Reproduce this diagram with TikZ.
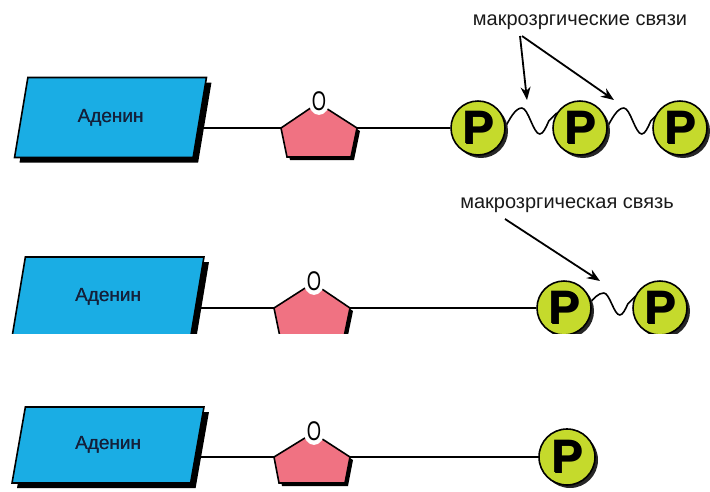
\documentclass[tikz,border=0pt]{standalone}
\usepackage{fontspec}
\setmainfont{Liberation Sans}
\usetikzlibrary{shapes.geometric,shadows,arrows.meta,backgrounds}
\definecolor{adblue}{HTML}{1AADE4}
\definecolor{sugar}{HTML}{F07282}
\definecolor{phos}{HTML}{C5DA2C}
\definecolor{adtext}{HTML}{14203A}
\definecolor{lbl}{HTML}{1A1A1A}
\newcommand\myP{\makebox[0pt][l]{\hspace{1.5pt}\raisebox{-1.5pt}{P}}P}
\newcommand\myO{\scalebox{0.68}[1]{O}}
\newcommand\adtxt{\raisebox{-3pt}{\makebox[0pt][l]{\hspace{0.35pt}Аденин}Аденин}}
\begin{document}
\begin{tikzpicture}[x=1pt,y=-1pt,
  adenine/.style={trapezium, trapezium left angle=76, trapezium right angle=104,
    trapezium stretches=true, draw=black, line width=1.6pt, fill=adblue, text=adtext,
    font=\fontsize{19}{22}\selectfont, minimum width=193pt, minimum height=80pt,
    drop shadow={shadow xshift=5pt, shadow yshift=-5pt, opacity=1, fill=black}},
  sugarpath/.style={draw=black, line width=1.6pt, fill=sugar,
    drop shadow={shadow xshift=3pt, shadow yshift=-3pt, opacity=1, fill=black}},
  phosph/.style={circle, draw=black, line width=1.6pt, fill=phos, minimum size=54pt,
    inner sep=0pt, font=\fontsize{47}{47}\selectfont\bfseries,
    drop shadow={shadow xshift=3pt, shadow yshift=-3pt, opacity=1, fill=black!85}},
  oxy/.style={ellipse, fill=white, inner sep=0.3pt, font=\fontsize{27}{27}\selectfont},
  bond/.style={line width=1.9pt},
  wave/.style={line width=1.6pt},
  lab/.style={font=\fontsize{20}{23}\selectfont, text=lbl},
  arr/.style={line width=1.8pt, -{Stealth[length=13pt,width=10pt]}},
]
\useasboundingbox (0,0) rectangle (710,491);

% ---------------- Row 1: ATP ----------------
\node[adenine] (a1) at (110.5,117.5) {\adtxt};
\draw[sugarpath] (318,103) -- (357,128) -- (351,157) -- (287,157) -- (281,128) -- cycle;
\coordinate (s1l) at (281,128);
\coordinate (s1r) at (357,128);
\node[oxy] (o1) at (319,101) {\myO};
\node[phosph] (p11) at (478,128) {\myP};
\node[phosph] (p12) at (580,128) {\myP};
\node[phosph] (p13) at (680,128) {\myP};
\begin{scope}[on background layer]
  \draw[bond] (s1l) -- (a1.center |- s1l);
  \draw[bond] (s1r) -- (p11);
  \draw[wave] (p11.east) ++(-2,2) sin ++(18,-22) cos ++(9,13) sin ++(9,13) cos ++(9,-13) -- ++(8,-8);
  \draw[wave] (p12.east) ++(-2,2) sin ++(18,-22) cos ++(9,13) sin ++(9,13) cos ++(9,-13) -- ++(8,-8);
\end{scope}
\node[lab] (l1) at (580,22) {макрозргические связи};
\coordinate (t11) at (527,100);
\coordinate (t12) at (614,100);
\draw[arr] ([xshift=-60pt,yshift=-3pt]l1.south) -- (t11);
\draw[arr] ([xshift=-58pt,yshift=-3pt]l1.south) -- (t12);

% ---------------- Row 2: ADP (cropped) ----------------
\begin{scope}
\clip (0,235) rectangle (710,333);
\node[adenine] (a2) at (108,297) {\adtxt};
\draw[sugarpath] (313,283) -- (350,308) -- (344,337) -- (280,337) -- (274,308) -- cycle;
\coordinate (s2l) at (274,308);
\coordinate (s2r) at (350,308);
\node[oxy] (o2) at (314,281) {\myO};
\node[phosph] (p21) at (564,308) {\myP};
\node[phosph] (p22) at (660,308) {\myP};
\end{scope}
\begin{scope}[on background layer]
  \draw[bond] (s2l) -- (a2.center |- s2l);
  \draw[bond] (s2r) -- (p21);
  \draw[wave] (p21.east) ++(-3,-4) sin ++(15,-11) cos ++(8,11) sin ++(8,11) cos ++(8,-11) -- ++(8,-8);
\end{scope}
\node[lab] (l2) at (567,205) {макрозргическая связь};
\coordinate (t21) at (600,281);
\draw[arr] ([xshift=-62pt,yshift=-3pt]l2.south) -- (t21);

% ---------------- Row 3: AMP ----------------
\node[adenine, minimum height=76pt] (a3) at (108,445) {\adtxt};
\draw[sugarpath] (313,433) -- (350,457) -- (345,483) -- (279,483) -- (274,457) -- cycle;
\coordinate (s3l) at (274,457);
\coordinate (s3r) at (350,457);
\node[oxy] (o3) at (314,431) {\myO};
\node[phosph, minimum size=56pt] (p31) at (567,457) {\myP};
\begin{scope}[on background layer]
  \draw[bond] (s3l) -- (a3.center |- s3l);
  \draw[bond] (s3r) -- (p31);
\end{scope}
\end{tikzpicture}
\end{document}
